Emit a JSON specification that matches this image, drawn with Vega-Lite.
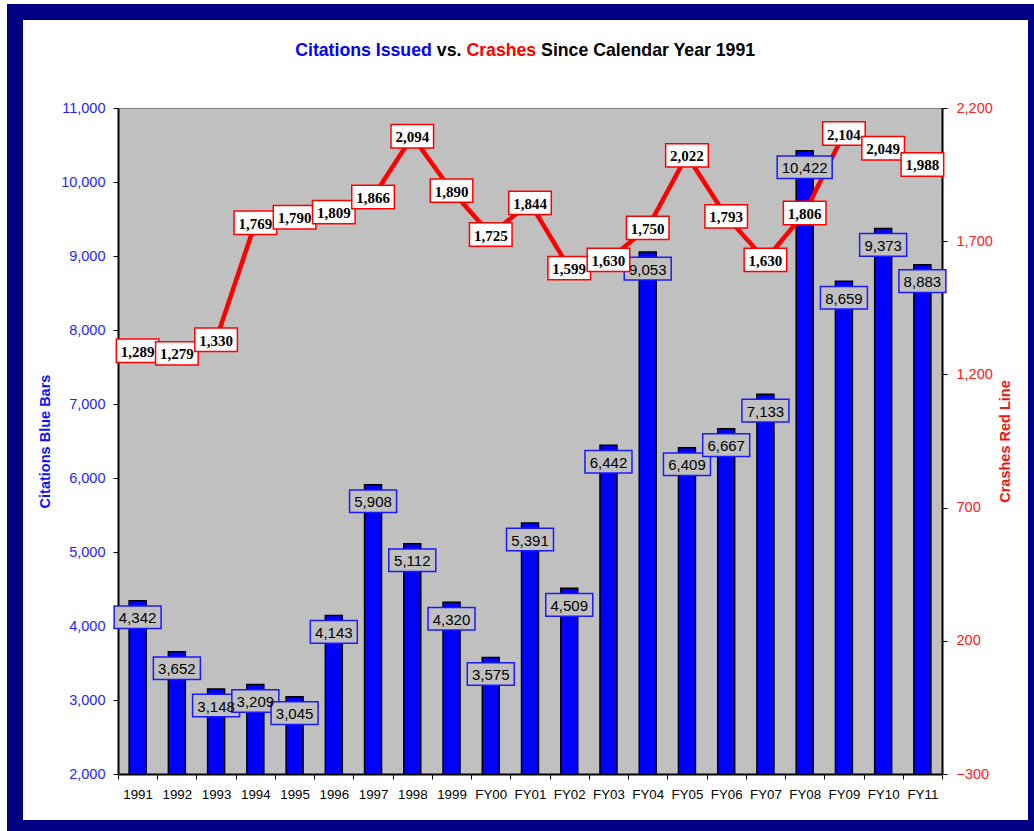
{
  "$schema": "https://vega.github.io/schema/vega-lite/v6.json",
  "width": 824,
  "height": 666,
  "autosize": {"type": "none"},
  "padding": {"left": 118, "top": 108, "right": 92, "bottom": 57},
  "background": "#ffffff",
  "config": {
    "view": {"fill": "#c0c0c0", "stroke": "#808080", "strokeWidth": 1},
    "axis": {"grid": false, "labelFont": "Liberation Sans", "titleFont": "Liberation Sans"}
  },
  "data": {
    "values": [
      {"year": "1991", "citations": 4342, "crashes": 1289},
      {"year": "1992", "citations": 3652, "crashes": 1279},
      {"year": "1993", "citations": 3148, "crashes": 1330},
      {"year": "1994", "citations": 3209, "crashes": 1769},
      {"year": "1995", "citations": 3045, "crashes": 1790},
      {"year": "1996", "citations": 4143, "crashes": 1809},
      {"year": "1997", "citations": 5908, "crashes": 1866},
      {"year": "1998", "citations": 5112, "crashes": 2094},
      {"year": "1999", "citations": 4320, "crashes": 1890},
      {"year": "FY00", "citations": 3575, "crashes": 1725},
      {"year": "FY01", "citations": 5391, "crashes": 1844},
      {"year": "FY02", "citations": 4509, "crashes": 1599},
      {"year": "FY03", "citations": 6442, "crashes": 1630},
      {"year": "FY04", "citations": 9053, "crashes": 1750},
      {"year": "FY05", "citations": 6409, "crashes": 2022},
      {"year": "FY06", "citations": 6667, "crashes": 1793},
      {"year": "FY07", "citations": 7133, "crashes": 1630},
      {"year": "FY08", "citations": 10422, "crashes": 1806},
      {"year": "FY09", "citations": 8659, "crashes": 2104},
      {"year": "FY10", "citations": 9373, "crashes": 2049},
      {"year": "FY11", "citations": 8883, "crashes": 1988}
    ]
  },
  "layer": [
    {
      "mark": {"type": "bar", "size": 17, "fill": "#0000ff", "stroke": "#000000", "strokeWidth": 1.5, "clip": true},
      "encoding": {
        "x": {
          "field": "year", "type": "nominal", "sort": null,
          "scale": {"paddingInner": 0, "paddingOuter": 0},
          "axis": {
            "orient": "bottom", "title": null, "labelAngle": 0, "labelFontSize": 13.3, "labelColor": "#000000",
            "tickBand": "extent", "tickSize": 5, "tickColor": "#000000", "tickWidth": 1,
            "labelPadding": 8, "domainColor": "#000000", "domainWidth": 2
          }
        },
        "y": {
          "field": "citations", "type": "quantitative",
          "scale": {"domain": [2000, 11000], "nice": false, "zero": false},
          "axis": {
            "orient": "left", "values": [2000, 3000, 4000, 5000, 6000, 7000, 8000, 9000, 10000, 11000],
            "format": ",d", "labelFontSize": 14.5, "labelColor": "#1f1fff", "tickSize": 5, "tickColor": "#000000",
            "labelPadding": 8, "domainColor": "#000000", "domainWidth": 2,
            "title": "Citations Blue Bars", "titleColor": "#1010ff", "titleFontSize": 14.5, "titleFontWeight": "bold",
            "titlePadding": 8
          }
        }
      }
    },
    {
      "mark": {"type": "line", "stroke": "#ff0000", "strokeWidth": 4.5},
      "encoding": {
        "x": {
          "field": "year", "type": "nominal", "sort": null,
          "axis": {
            "orient": "top", "domain": false, "ticks": false, "labels": false, "grid": false,
            "title": "Citations Issued", "titleColor": "#0000ff", "titleFontSize": 17.7, "titleFontWeight": "bold",
            "titleX": 176.7, "titleY": -53, "titleAlign": "left", "titleBaseline": "alphabetic", "titleAngle": 0
          }
        },
        "y": {
          "field": "crashes", "type": "quantitative",
          "scale": {"domain": [-300, 2200], "nice": false, "zero": false},
          "axis": {
            "orient": "right", "values": [-300, 200, 700, 1200, 1700, 2200],
            "format": ",d", "labelFontSize": 14.5, "labelColor": "#ff2020", "tickSize": 5, "tickColor": "#000000",
            "labelPadding": 9, "domainColor": "#000000", "domainWidth": 2,
            "title": "Crashes Red Line", "titleColor": "#ff1010", "titleFontSize": 14.5, "titleFontWeight": "bold",
            "titleAngle": 270, "titleBaseline": "top", "titlePadding": 6
          }
        }
      }
    },
    {
      "mark": {"type": "point", "filled": true, "fill": "#c0c0c0", "stroke": "#1a1aff", "strokeWidth": 1.5, "opacity": 1, "size": 400, "yOffset": 16.5},
      "encoding": {
        "x": {
          "field": "year", "type": "nominal", "sort": null,
          "axis": {
            "orient": "top", "domain": false, "ticks": false, "labels": false, "grid": false,
            "title": "vs.", "titleColor": "#000000", "titleFontSize": 17.7, "titleFontWeight": "bold",
            "titleX": 318.3, "titleY": -53, "titleAlign": "left", "titleBaseline": "alphabetic", "titleAngle": 0
          }
        },
        "y": {
          "field": "citations", "type": "quantitative",
          "scale": {"domain": [2000, 11000], "nice": false, "zero": false}, "axis": null
        },
        "shape": {
          "condition": {"test": "datum.citations >= 10000", "value": "M-2.75,-1.13H2.75V1.13H-2.75Z"},
          "value": "M-2.35,-1.13H2.35V1.13H-2.35Z"
        }
      }
    },
    {
      "mark": {"type": "text", "font": "Liberation Sans", "fontSize": 15, "fill": "#000000", "baseline": "middle", "align": "center", "yOffset": 17.5},
      "encoding": {
        "x": {
          "field": "year", "type": "nominal", "sort": null,
          "axis": {
            "orient": "top", "domain": false, "ticks": false, "labels": false, "grid": false,
            "title": "Crashes", "titleColor": "#ff0000", "titleFontSize": 17.7, "titleFontWeight": "bold",
            "titleX": 347.9, "titleY": -53, "titleAlign": "left", "titleBaseline": "alphabetic", "titleAngle": 0
          }
        },
        "y": {
          "field": "citations", "type": "quantitative",
          "scale": {"domain": [2000, 11000], "nice": false, "zero": false}, "axis": null
        },
        "text": {"field": "citations", "type": "quantitative", "format": ","}
      }
    },
    {
      "mark": {"type": "point", "filled": true, "fill": "#ffffff", "stroke": "#ff0000", "strokeWidth": 1.5, "opacity": 1, "size": 400, "shape": "M-2.13,-1.17H2.13V1.17H-2.13Z"},
      "encoding": {
        "x": {
          "field": "year", "type": "nominal", "sort": null,
          "axis": {
            "orient": "top", "domain": false, "ticks": false, "labels": false, "grid": false,
            "title": "Since Calendar Year 1991", "titleColor": "#000000", "titleFontSize": 17.7, "titleFontWeight": "bold",
            "titleX": 422.6, "titleY": -53, "titleAlign": "left", "titleBaseline": "alphabetic", "titleAngle": 0
          }
        },
        "y": {
          "field": "crashes", "type": "quantitative",
          "scale": {"domain": [-300, 2200], "nice": false, "zero": false}, "axis": null
        }
      }
    },
    {
      "mark": {"type": "text", "font": "Liberation Serif", "fontSize": 15, "fontWeight": "bold", "fill": "#000000", "baseline": "middle", "align": "center", "yOffset": 1, "strokeWidth": 0},
      "encoding": {
        "x": {"field": "year", "type": "nominal", "sort": null, "axis": null},
        "y": {
          "field": "crashes", "type": "quantitative",
          "scale": {"domain": [-300, 2200], "nice": false, "zero": false}, "axis": null
        },
        "text": {"field": "crashes", "type": "quantitative", "format": ","},
        "stroke": {
          "field": "crashes", "type": "quantitative",
          "legend": {
            "orient": "none", "legendX": -103, "legendY": -96, "direction": "vertical",
            "gradientLength": 816, "gradientThickness": 1021, "gradientOpacity": 0, "gradientStrokeWidth": 0,
            "labelExpr": "''", "labelFontSize": 0, "labelOffset": 0, "title": null, "padding": 0,
            "strokeColor": "#000080", "fillColor": null, "zindex": 0,
            "encode": {"legend": {"update": {"strokeWidth": {"value": 16}, "stroke": {"value": "#000080"}}}}
          }
        }
      }
    }
  ],
  "resolve": {"scale": {"y": "independent"}, "axis": {"x": "independent", "y": "independent"}}
}
